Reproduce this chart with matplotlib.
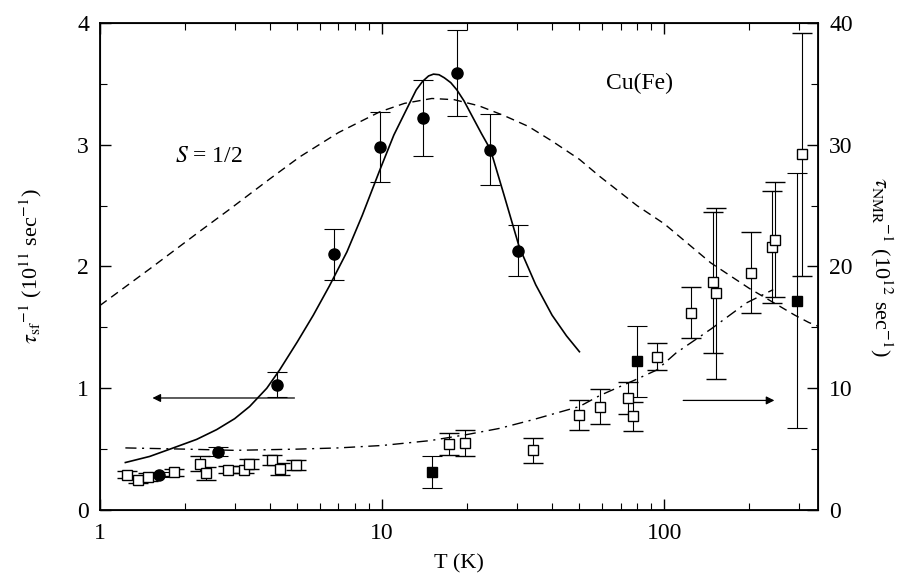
import numpy as np
import matplotlib
matplotlib.use("Agg")
import matplotlib.pyplot as plt
from matplotlib.ticker import LogLocator, MultipleLocator, NullFormatter, FixedLocator, FixedFormatter

plt.rcParams['font.family'] = ['Liberation Serif', 'DejaVu Serif']
plt.rcParams['mathtext.fontset'] = 'stix'

# filled circles: tau_sf^-1 (left axis, 10^11 sec^-1)
sf_T = [1.62, 2.62, 4.23, 6.73, 9.8, 13.9, 18.4, 24.2, 30.2]
sf_val = [0.29, 0.48, 1.03, 2.10, 2.98, 3.22, 3.59, 2.96, 2.13]
sf_err = [0.02, 0.04, 0.10, 0.21, 0.29, 0.31, 0.35, 0.29, 0.21]

# open squares: tau_NMR^-1 (right axis, 10^12 sec^-1)
nmr_T = [1.25, 1.36, 1.48, 1.83, 2.26, 2.37, 2.84, 3.23, 3.37, 4.06, 4.34, 4.94,
         17.2, 19.6, 34.1, 50, 58.9, 74.6, 77.6, 94, 124, 149, 152, 203, 241, 247, 308]
nmr_val = [2.9, 2.5, 2.7, 3.1, 3.8, 3.0, 3.3, 3.3, 3.8, 4.1, 3.4, 3.7,
           5.4, 5.5, 4.9, 7.8, 8.5, 9.2, 7.7, 12.6, 16.2, 18.7, 17.8, 19.5, 21.6, 22.2, 29.2]
nmr_err = [0.3, 0.3, 0.3, 0.3, 0.6, 0.5, 0.3, 0.3, 0.4, 0.4, 0.5, 0.4,
           0.9, 1.1, 1.05, 1.2, 1.4, 1.3, 1.2, 1.1, 2.1, 5.8, 7.0, 3.3, 4.6, 4.7, 10.0]

# filled squares (right axis)
nmr2_T = [15.0, 80, 296]
nmr2_val = [3.1, 12.2, 17.2]
nmr2_err = [1.3, 2.9, 10.5]

# solid fit (left axis)
fit_T = [1.23, 1.5, 1.77, 2.2, 2.59, 3.0, 3.39, 3.9, 4.33, 5.0, 5.7, 6.5, 7.5, 8.5,
         9.8, 11.0, 12.5, 13.2, 13.9, 14.6, 15.2, 15.9, 16.6, 17.5, 18.4, 19.5, 21,
         22.5, 24.2, 27, 30.6, 35, 40, 45, 50]
fit_val = [0.39, 0.44, 0.50, 0.58, 0.66, 0.75, 0.85, 1.0, 1.15, 1.38, 1.60, 1.84, 2.12, 2.42,
           2.79, 3.08, 3.34, 3.45, 3.52, 3.565, 3.58, 3.575, 3.55, 3.51, 3.45, 3.36, 3.22,
           3.09, 2.96, 2.59, 2.16, 1.85, 1.6, 1.43, 1.30]

# dashed S = 1/2 curve (left axis)
s12_T = [1.0, 1.5, 2.26, 2.88, 4.0, 5.1, 7, 9.8, 12, 15, 18, 22, 27, 33, 40, 50, 59,
         80, 100, 146, 200, 241, 290, 325, 350]
s12_val = [1.68, 1.98, 2.29, 2.47, 2.72, 2.90, 3.10, 3.27, 3.34, 3.38, 3.37, 3.32, 3.24,
           3.15, 3.03, 2.88, 2.74, 2.50, 2.35, 2.03, 1.82, 1.71, 1.60, 1.54, 1.51]

# dash-dot curve (right axis)
dd_T = [1.23, 2.0, 3.0, 5.0, 7.0, 10, 14.8, 20, 26, 34, 50, 59, 79, 94, 110, 147, 195, 243]
dd_val = [5.1, 5.0, 4.9, 5.0, 5.1, 5.3, 5.7, 6.2, 6.7, 7.4, 8.5, 9.4, 10.7, 11.5, 12.9,
          14.9, 17.0, 18.1]

fig = plt.figure(figsize=(9.19, 5.82), dpi=100)
ax = fig.add_axes([0.1088, 0.1237, 0.7812, 0.8368])
ax2 = ax.twinx()

ax.set_xscale('log')
ax.set_xlim(1, 350)
ax.set_ylim(0, 4)
ax2.set_ylim(0, 40)

ax.plot(fit_T, fit_val, '-', color='black', lw=1.2)
ax.plot(s12_T, s12_val, color='black', lw=1.0, dashes=(6, 4))
ax2.plot(dd_T, dd_val, color='black', lw=1.0, dashes=(8, 4, 1.5, 4))

ekw = dict(ecolor='black', elinewidth=0.8, capsize=7, capthick=0.8, linestyle='none')
ax.errorbar(sf_T, sf_val, yerr=sf_err, marker='o', ms=8, mfc='black', mec='black', **ekw)
ax2.errorbar(nmr_T, nmr_val, yerr=nmr_err, marker='s', ms=7, mfc='white', mec='black',
             mew=1.0, **ekw)
ax2.errorbar(nmr2_T, nmr2_val, yerr=nmr2_err, marker='s', ms=7, mfc='black', mec='black', **ekw)

# arrows
ax.annotate('', xy=(1.5, 0.92), xytext=(5.0, 0.92),
            arrowprops=dict(arrowstyle='-|>', color='black', lw=0.9, mutation_scale=12))
ax.annotate('', xy=(251, 0.90), xytext=(114, 0.90),
            arrowprops=dict(arrowstyle='-|>', color='black', lw=0.9, mutation_scale=12))

ax.text(1.85, 2.9, r'$S$ = 1/2', fontsize=17, ha='left', va='center')
ax.text(62, 3.50, 'Cu(Fe)', fontsize=17, ha='left', va='center')

# ticks
ax.xaxis.set_major_locator(FixedLocator([1, 10, 100]))
ax.xaxis.set_major_formatter(FixedFormatter(['1', '10', '100']))
ax.xaxis.set_minor_locator(LogLocator(base=10, subs=np.arange(2, 10), numticks=20))
ax.xaxis.set_minor_formatter(NullFormatter())
ax.yaxis.set_major_locator(MultipleLocator(1))
ax.yaxis.set_minor_locator(MultipleLocator(0.5))
ax2.yaxis.set_major_locator(MultipleLocator(10))
ax2.yaxis.set_minor_locator(MultipleLocator(5))

ax.tick_params(axis='x', which='both', direction='in', top=True, labelsize=17, pad=9)
ax.tick_params(axis='y', which='both', direction='in', right=False, labelsize=17, pad=8)
ax2.tick_params(axis='y', which='both', direction='in', labelsize=17, pad=8)
for a in (ax, ax2):
    a.tick_params(which='major', length=8, width=1.0)
    a.tick_params(which='minor', length=5, width=0.8)
for sp in ax.spines.values():
    sp.set_linewidth(1.3)

ax.set_xlabel('T (K)', fontsize=16, labelpad=8)
ax.set_ylabel(r'$\tau_{\rm sf}{}^{-1}$ (10$^{11}$ sec$^{-1}$)', fontsize=16, labelpad=24)
ax2.set_ylabel(r'$\tau_{\rm NMR}{}^{-1}$ (10$^{12}$ sec$^{-1}$)', fontsize=16,
               rotation=270, labelpad=30)

fig.savefig('out.png', dpi=100)
